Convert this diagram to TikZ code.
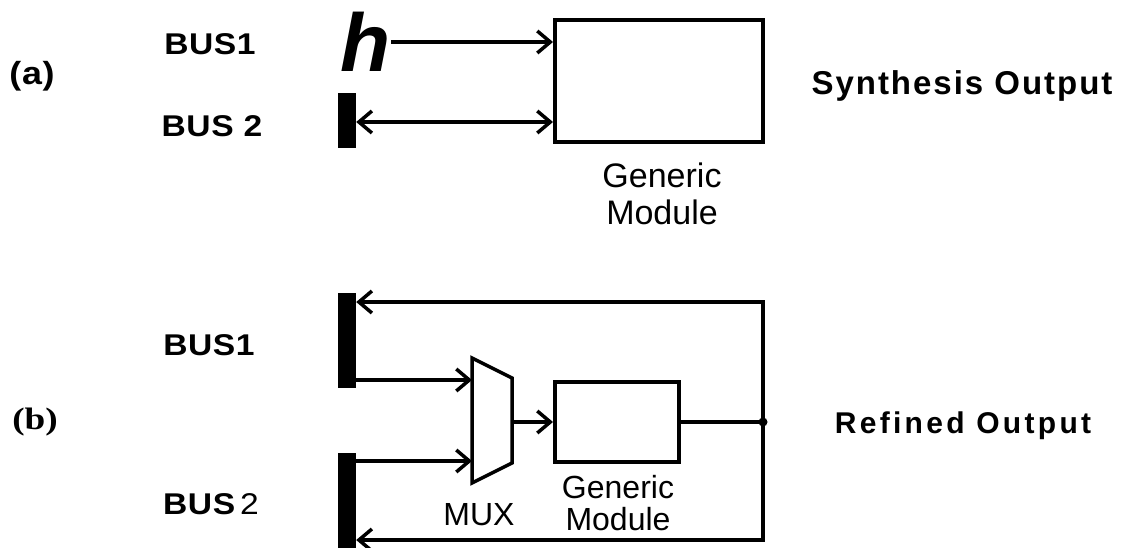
\documentclass[tikz,border=0pt]{standalone}
\usepackage{fontspec}
\setmainfont{Liberation Sans}
\newfontfamily\widefont[FakeStretch=1.12,LetterSpace=2]{Liberation Sans}
\newfontfamily\synfont[LetterSpace=6]{Liberation Sans}
\newfontfamily\reffont[LetterSpace=11]{Liberation Sans}
\newfontfamily\serifbold[FakeStretch=1.2]{Liberation Serif}
\usetikzlibrary{arrows.meta}
\tikzset{
  wire/.style={line width=3.5pt},
  arr/.style={wire,-{Straight Barb[length=13pt,width=22pt]}},
  darr/.style={wire,{Straight Barb[length=13pt,width=22pt]}-{Straight Barb[length=13pt,width=22pt]}},
  module/.style={draw,line width=4pt,inner sep=0pt},
  busbar/.style={fill=black,inner sep=0pt,minimum width=18pt},
  buslbl/.style={anchor=base,inner sep=0pt,font=\fontsize{30}{32}\widefont\bfseries},
  outlbl/.style={anchor=base,inner sep=0pt},
  txt/.style={inner sep=0pt,align=center}
}
\begin{document}
\begin{tikzpicture}[x=1pt,y=-1pt]
  \useasboundingbox (0,0) rectangle (1132,548);
  % (a) synthesis output
  \node[buslbl] (bus1a) at (210,55) {BUS1};
  \node[buslbl] (bus2a) at (212,137) {BUS 2};
  \node[buslbl,font=\fontsize{32}{34}\widefont\bfseries] (taga) at (32,85) {(a)};
  \node[outlbl,font=\fontsize{33}{35}\synfont\bfseries] (outa) at (962,95) {Synthesis Output};
  \node[inner sep=0pt,font=\fontsize{82}{84}\selectfont\bfseries\itshape] (h) at (366,42) {h};
  \node[module,minimum width=208pt,minimum height=122pt] (gm1) at (659,81) {};
  \node[busbar,minimum height=55pt] (bar2a) at (347,120.5) {};
  \node[txt,anchor=north,font=\fontsize{34}{37}\selectfont] (gm1lbl) at (662,163) {Generic\\Module};
  \draw[arr] (h.east) -- (h.east -| gm1.west);
  \draw[darr] (bar2a.east |- 0,122) -- (gm1.west |- 0,122);
  % (b) refined output
  \node[buslbl] (bus1b) at (209,355) {BUS1};
  \node[buslbl] (bus2b) at (211,514) {BUS\,{\mdseries 2}};
  \node[anchor=base,inner sep=0pt,font=\fontsize{31}{33}\serifbold\bfseries] (tagb) at (35,429) {(b)};
  \node[outlbl,font=\fontsize{30}{32}\reffont\bfseries] (outb) at (963,433) {Refined Output};
  \node[busbar,minimum height=95pt] (bar1b) at (347,340.5) {};
  \node[busbar,minimum height=95pt] (bar2b) at (347,500.5) {};
  \node[module,minimum width=124pt,minimum height=80pt] (gm2) at (617,422) {};
  \draw[wire,line join=miter] (472,358) -- (512,378) -- (512,463) -- (472,483) -- cycle;
  \coordinate (muxa) at (472,380);
  \coordinate (muxb) at (472,461);
  \coordinate (muxo) at (512,422);
  \coordinate (jn) at (763,422);
  \coordinate (top) at (763,302);
  \coordinate (bot) at (763,540);
  \node[txt,anchor=north,font=\fontsize{32}{33}\selectfont] (muxlbl) at (479,503) {MUX};
  \node[txt,anchor=north,font=\fontsize{32}{32}\selectfont] (gm2lbl) at (618,475) {Generic\\Module};
  \draw[arr] (bar1b.east |- muxa) -- (muxa);
  \draw[arr] (bar2b.east |- muxb) -- (muxb);
  \draw[arr] (muxo) -- (gm2.west);
  \draw[wire] (gm2.east) -- (jn);
  \fill (jn) circle (4.5);
  \draw[arr] (jn) |- (bar1b.east |- top);
  \draw[arr] (jn) |- (bar2b.east |- bot);
\end{tikzpicture}
\end{document}
